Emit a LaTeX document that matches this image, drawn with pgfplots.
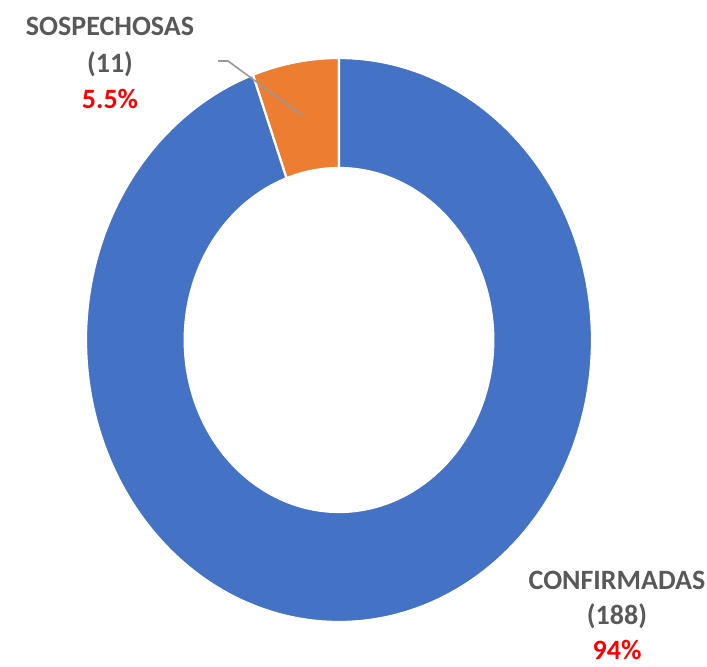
\documentclass[border=0pt]{standalone}
\usepackage{pgfplots}
\pgfplotsset{compat=1.18}
\usepgfplotslibrary{fillbetween}
\usepackage{fontspec}
\setmainfont{Carlito}
\definecolor{cblue}{HTML}{4472C4}
\definecolor{corange}{HTML}{ED7D31}
\definecolor{ctext}{HTML}{595959}
\definecolor{cred}{HTML}{FF0000}
\newcommand\lbl{\bfseries\fontsize{14}{17}\selectfont}
% data
\def\vSos{11}
\def\vConf{188}
\pgfmathsetmacro\aS{90+360*\vSos/(\vSos+\vConf)}
\pgfmathsetmacro\aE{450}
% geometry (pixels)
\def\cx{339}\def\cy{326}\def\rx{253}\def\ry{282}\def\hole{0.61}
\begin{document}
\begin{tikzpicture}
\begin{axis}[hide axis, scale only axis, width=353.5pt, height=333pt,
  xmin=0, xmax=707, ymin=0, ymax=666, clip=false]
% orange slice (SOSPECHOSAS)
\addplot[draw=none, name path=oO, domain=90:\aS, samples=40, variable=\t] ({\cx+\rx*cos(\t)},{\cy+\ry*sin(\t)});
\addplot[draw=none, name path=oI, domain=90:\aS, samples=40, variable=\t] ({\cx+\hole*\rx*cos(\t)},{\cy+\hole*\ry*sin(\t)});
\addplot[fill=corange, draw=white, line width=1.1pt] fill between[of=oO and oI];
% blue slice (CONFIRMADAS)
\addplot[draw=none, name path=bO, domain=\aS:\aE, samples=240, variable=\t] ({\cx+\rx*cos(\t)},{\cy+\ry*sin(\t)});
\addplot[draw=none, name path=bI, domain=\aS:\aE, samples=240, variable=\t] ({\cx+\hole*\rx*cos(\t)},{\cy+\hole*\ry*sin(\t)});
\addplot[fill=cblue, draw=white, line width=1.1pt] fill between[of=bO and bI];
% leader line
\addplot[color=gray!80, line width=0.8pt, mark=none] coordinates {(218,605) (228,605) (303,550)};
% labels
\node[anchor=base, text=ctext, font=\lbl] at (axis cs:110,631) {SOSPECHOSAS};
\node[anchor=base, text=ctext, font=\lbl] at (axis cs:110,594) {(11)};
\node[anchor=base, text=cred, font=\lbl] at (axis cs:110,558) {5.5\%};
\node[anchor=base, text=ctext, font=\lbl] at (axis cs:617,77) {CONFIRMADAS};
\node[anchor=base, text=ctext, font=\lbl] at (axis cs:617,42) {(188)};
\node[anchor=base, text=cred, font=\lbl] at (axis cs:617,7) {94\%};
\end{axis}
\pgfresetboundingbox
\path[use as bounding box] (0,0) rectangle (353.5pt,333pt);
\end{tikzpicture}
\end{document}
